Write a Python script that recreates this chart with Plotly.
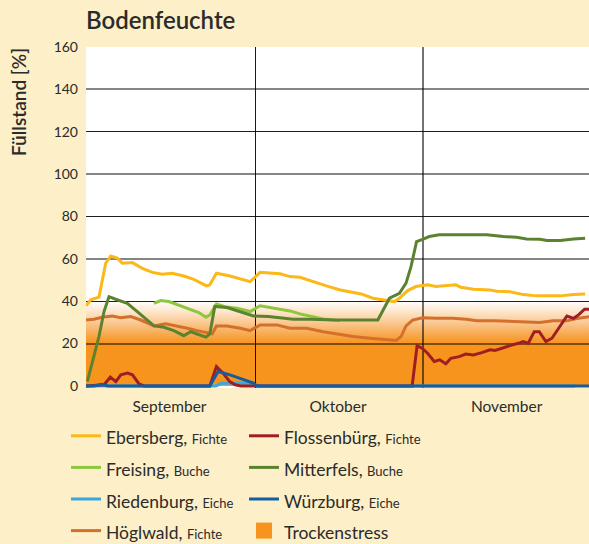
import plotly.graph_objects as go

# ---------------- data (x = day since 1 September) ----------------
months = ["September", "Oktober", "November"]
month_mid_days = [15.1, 45.6, 76.1]
month_boundary_days = [30.75, 61.0]
day_range = [0, 91]

y_ticks = [0, 20, 40, 60, 80, 100, 120, 140, 160]
y_major_grid = [40, 80, 120, 160]
y_minor_grid = [20, 60, 100, 140]

stress_level = 20        # Trockenstress threshold
stress_fade_top = 40     # top of the faded band

eb_d = [0, 0.85, 2.35, 3.56, 4.47, 5.66, 6.57, 8.38, 10.19, 12.0, 13.8, 15.6, 17.7, 19.5, 21.8, 22.4,
        23.6, 26.05, 29.7, 31.5, 35.1, 36.9, 38.7, 40.5, 43.5, 46.0, 47.6, 49.8, 51.9, 54.3, 55.8, 56.7,
        58.2, 59.7, 61.8, 63.3, 65.1, 66.9, 67.8, 70.1, 73.1, 74.3, 76.7, 79.1, 81.5, 85.8, 88.2, 90.3]
eb_v = [37.8, 40.6, 41.9, 57.9, 61.3, 60.3, 57.9, 58.2, 55.5, 53.6, 52.7, 53.2, 51.9, 50.3, 47.2, 47.7,
        53.2, 51.9, 49.2, 53.6, 52.9, 51.6, 51.3, 49.7, 47.2, 45.3, 44.5, 43.4, 41.4, 40.6, 39.8, 41.4,
        45.0, 46.9, 47.7, 46.9, 47.2, 47.7, 46.6, 45.6, 45.3, 44.7, 44.4, 43.1, 42.5, 42.5, 43.1, 43.4]

mf_d = [0.24, 2.35, 3.26, 4.16, 5.37, 6.57, 7.47, 9.28, 12.3, 14.1, 15.9, 17.7, 18.9, 20.1, 21.7, 22.4,
        23.3, 25.5, 27.9, 30.3, 33.0, 35.4, 37.5, 40.5, 45.2, 52.8, 54.9, 56.7, 57.9, 58.8, 59.8, 60.9,
        62.1, 63.9, 72.5, 75.5, 77.9, 79.7, 82.1, 83.4, 85.8, 88.2, 90.3]
mf_v = [2.0, 23.3, 35.1, 42.1, 40.9, 39.8, 39.0, 35.1, 28.3, 27.7, 26.1, 23.7, 25.6, 24.5, 23.0, 24.5,
        37.5, 37.0, 35.1, 33.0, 32.7, 31.9, 31.5, 31.5, 31.1, 31.1, 41.4, 43.7, 48.5, 56.3, 68.1, 69.2,
        70.5, 71.3, 71.3, 70.5, 70.2, 69.4, 69.2, 68.6, 68.6, 69.4, 69.7]

fr_d = [12.3, 13.5, 15.0, 17.1, 18.9, 20.4, 21.7, 22.4, 23.6, 25.1, 27.3, 29.7, 31.5, 33.3, 35.1, 36.9,
        38.7, 40.5, 42.9, 45.9]
fr_v = [39.0, 40.3, 39.8, 37.8, 36.3, 34.6, 32.4, 33.5, 38.6, 37.4, 36.7, 35.1, 37.8, 37.0, 35.9, 35.4,
        34.0, 33.0, 31.6, 30.8]

hw_d = [0, 1.45, 2.95, 4.76, 6.28, 8.09, 9.9, 12.3, 14.4, 16.5, 18.3, 20.1, 21.9, 22.85, 23.6, 25.5,
        27.9, 29.7, 31.5, 34.5, 36.9, 39.9, 42.9, 46.0, 48.3, 51.3, 54.3, 56.1, 57.0, 57.9, 59.1, 60.9,
        63.3, 66.3, 68.8, 70.7, 73.7, 77.9, 82.1, 84.5, 87.0, 88.8, 91.0]
hw_v = [31.1, 31.5, 32.4, 33.0, 32.2, 32.7, 31.1, 28.3, 29.3, 28.3, 27.2, 26.1, 25.2, 24.6, 28.3, 28.3,
        27.2, 26.1, 28.8, 28.8, 27.2, 27.2, 25.6, 24.1, 23.3, 22.5, 21.7, 21.4, 23.3, 28.3, 31.1, 32.2,
        31.9, 31.9, 31.5, 30.8, 30.8, 30.3, 29.9, 30.7, 30.7, 31.8, 32.7]

fl_d = [0, 3.26, 4.4, 5.4, 6.3, 7.5, 8.4, 9.6, 10.5, 22.4, 23.6, 24.8, 26.0, 27.0, 28.0, 59.0, 59.9,
        60.8, 61.8, 63.0, 64.0, 65.1, 66.0, 67.5, 68.7, 70.1, 71.6, 73.1, 74.0, 75.5, 76.7, 78.2, 79.1,
        80.0, 81.1, 82.0, 83.2, 84.3, 85.8, 87.0, 88.2, 89.1, 90.2, 91.0]
fl_v = [0, 0.5, 4.1, 2.0, 5.2, 6.0, 5.2, 0.9, 0, 0, 9.1, 6.0, 2.0, 0.5, 0, 0, 18.9,
        17.8, 15.4, 11.5, 12.3, 10.4, 13.0, 13.8, 15.0, 14.6, 15.7, 17.0, 16.7, 18.1, 19.0, 20.1, 20.9,
        20.1, 25.6, 25.6, 20.9, 22.5, 28.3, 33.0, 31.9, 33.5, 36.2, 36.2]

wu_d = [0, 1.5, 2.8, 4.0, 22.4, 23.9, 26.05, 28.5, 30.3, 30.9, 91]
wu_v = [0, 0, 0.8, 0, 0, 6.8, 5.2, 2.8, 1.3, 0, 0]

ri_d = [0, 23.5, 24.5, 30.0, 31.0, 88.5]
ri_v = [0, 0, 1.2, 1.2, 0, 0]

# ---------------- styling ----------------
FONT = "Lato"
TXT = "#2b2b2b"
CREAM = "#FDEFC8"
ORANGE = "#F7941D"

def nm(site, tree):
    return (f"<span style='font-size:17.5px'>{site}, </span>"
            f"<span style='font-size:13px'>{tree}</span>")

series = [
    # (site, tree, x, y, color, legend, rank)
    ("Höglwald", "Fichte", hw_d, hw_v, "#D4702C", "legend", 4),
    ("Ebersberg", "Fichte", eb_d, eb_v, "#FBB817", "legend", 1),
    ("Freising", "Buche", fr_d, fr_v, "#8DC63F", "legend", 2),
    ("Mitterfels", "Buche", mf_d, mf_v, "#5B832F", "legend2", 2),
    ("Riedenburg", "Eiche", ri_d, ri_v, "#3BA7DF", "legend", 3),
    ("Flossenbürg", "Fichte", fl_d, fl_v, "#A01E23", "legend2", 1),
    ("Würzburg", "Eiche", wu_d, wu_v, "#135DA0", "legend2", 3),
]

fig = go.Figure()

# Trockenstress band (subplot 1, below the grid of subplot 2)
fig.add_trace(go.Scatter(
    x=day_range, y=[stress_fade_top, stress_fade_top],
    mode="lines", line=dict(width=0), fill="tozeroy",
    fillgradient=dict(
        type="vertical", start=0, stop=stress_fade_top,
        colorscale=[[0, ORANGE], [stress_level / stress_fade_top, ORANGE],
                    [0.6, "#F8A749"], [0.72, "#FAC285"], [0.85, "#FDE0C0"],
                    [1, "#FFFFFF"]]),
    showlegend=False, hoverinfo="skip", xaxis="x", yaxis="y"))

# legend entry for Trockenstress
fig.add_trace(go.Scatter(
    x=[None], y=[None], mode="markers", name="<span style='font-size:17.5px'>Trockenstress</span>",
    marker=dict(symbol="square", size=16, color=ORANGE),
    legend="legend2", legendrank=4, xaxis="x", yaxis="y"))

for site, tree, xs, ys, col, leg, rank in series:
    fig.add_trace(go.Scatter(
        x=xs, y=ys, mode="lines", name=nm(site, tree),
        line=dict(color=col, width=3),
        legend=leg, legendrank=rank, xaxis="x2", yaxis="y2"))

H, W = 544, 589
ml, mt, mb = 86, 47, 156
plot_h = H - mt - mb
plot_w = W - ml

legend_common = dict(
    xanchor="left", yanchor="top", orientation="v",
    font=dict(family=FONT, size=22, color=TXT),
    bgcolor="rgba(0,0,0,0)", traceorder="normal",
)
legend_top_px = 415.0
ly = (H - mb - legend_top_px) / plot_h

fig.update_layout(
    width=W, height=H,
    margin=dict(l=ml, r=0, t=mt, b=mb, autoexpand=False),
    paper_bgcolor=CREAM,
    plot_bgcolor="rgba(0,0,0,0)",
    font=dict(family=FONT, color=TXT),
    title=dict(text="Bodenfeuchte", x=0, xref="paper", xanchor="left",
               y=1 - 21 / H, yref="container", yanchor="middle",
               font=dict(family=FONT, size=24, color=TXT, weight=600)),
    xaxis=dict(range=day_range, tickmode="array", tickvals=month_mid_days, ticktext=months,
               showgrid=False, zeroline=False, showline=False, ticks="",
               tickfont=dict(size=15.5, color=TXT), ticklabelstandoff=7,
               fixedrange=True),
    yaxis=dict(range=[-1, 160], tickmode="array", tickvals=y_ticks,
               showgrid=False, zeroline=False, showline=False, ticks="",
               tickfont=dict(size=14, color=TXT), ticklabelstandoff=7,
               fixedrange=True),
    xaxis2=dict(domain=[0, 1], anchor="y2", matches="x", range=day_range,
                tickmode="array", tickvals=[month_boundary_days[0]],
                showticklabels=False, ticks="", zeroline=False, showline=False,
                showgrid=True, gridcolor="rgba(0,0,0,0.9)", gridwidth=1.3,
                minor=dict(tickmode="array", tickvals=[month_boundary_days[1]], showgrid=True,
                           gridcolor="rgba(0,0,0,0.55)", gridwidth=1.6, ticks=""),
                fixedrange=True),
    yaxis2=dict(domain=[0, 1], anchor="x2", matches="y", range=[-1, 160],
                tickmode="array", tickvals=y_major_grid,
                showticklabels=False, ticks="", zeroline=False, showline=False,
                showgrid=True, gridcolor="rgba(0,0,0,0.88)", gridwidth=1.3,
                minor=dict(tickmode="array", tickvals=y_minor_grid, showgrid=True,
                           gridcolor="rgba(0,0,0,0.48)", gridwidth=2, ticks=""),
                fixedrange=True),
    legend=dict(x=(66 - ml) / plot_w, y=ly, **legend_common),
    legend2=dict(x=(244 - ml) / plot_w, y=ly, **legend_common),
    shapes=[dict(type="rect", xref="paper", yref="paper", x0=0, x1=1, y0=0, y1=1,
                 fillcolor="white", line=dict(width=0), layer="below")],
    annotations=[dict(text="Füllstand [%]", textangle=-90, xref="paper", yref="paper",
                      x=(19 - ml) / plot_w, y=(H - mb - 102) / plot_h,
                      xanchor="center", yanchor="middle", showarrow=False,
                      font=dict(family=FONT, size=19, color=TXT, weight=600))],
    showlegend=True,
)

fig.write_html(
    "out.html",
    config={"displayModeBar": False},
    post_script="document.body.style.margin='0';document.body.style.overflow='hidden';",
)
